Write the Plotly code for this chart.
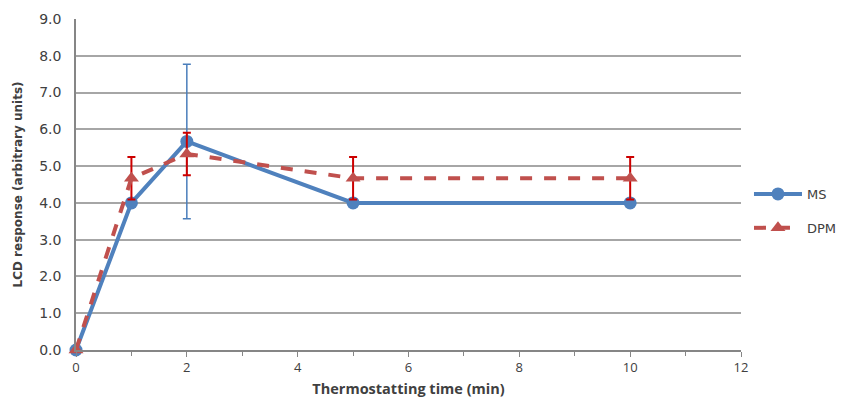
import plotly.graph_objects as go

time_min = [0, 1, 2, 5, 10]
ms_values = [0.0, 4.0, 5.67, 4.0, 4.0]
ms_errors = [0.0, 0.0, 2.1, 0.0, 0.0]
dpm_values = [0.0, 4.67, 5.33, 4.67, 4.67]
dpm_errors = [0.0, 0.58, 0.58, 0.58, 0.58]
y_ticks = [0, 1, 2, 3, 4, 5, 6, 7, 8, 9]
y_tick_labels = [f"{v:.1f}" for v in y_ticks]

fig = go.Figure()
fig.add_trace(go.Scatter(
    x=time_min, y=ms_values, name="MS", mode="lines+markers",
    legendgroup="ms", cliponaxis=False,
    line=dict(color="#4f81bd", width=4),
    marker=dict(symbol="circle", size=13, color="#4f81bd"),
    error_y=dict(type="data", array=ms_errors, visible=True,
                 color="#4a7ebb", thickness=1.5, width=4),
))
fig.add_trace(go.Scatter(
    x=time_min, y=dpm_values, name="DPM", mode="lines+markers",
    legendgroup="dpm", cliponaxis=False,
    line=dict(color="#c0504d", width=4, dash="dash"),
    marker=dict(symbol="triangle-up", size=13, color="#c0504d"),
    error_y=dict(type="data", array=dpm_errors, visible=True,
                 color="#cc0000", thickness=2, width=4),
))

dv = "DejaVu Sans, Verdana, sans-serif"
cal = "Open Sans, Liberation Sans, sans-serif"
fig.update_layout(
    width=845, height=400,
    margin=dict(l=68, r=112, t=11, b=58, autoexpand=False),
    paper_bgcolor="white", plot_bgcolor="white",
    font=dict(family=dv, size=13, color="#404040"),
    legend=dict(x=1.012, y=0.42, xanchor="left", yanchor="middle",
                font=dict(family=dv, size=13, color="#404040"),
                traceorder="grouped", tracegroupgap=14,
                itemwidth=48, bgcolor="rgba(0,0,0,0)"),
    showlegend=True,
)
fig.update_xaxes(
    range=[0, 12], tickvals=[0, 2, 4, 6, 8, 10, 12],
    showgrid=False, zeroline=False, automargin=False,
    showline=True, linecolor="#868686", linewidth=1.5,
    ticks="outside", ticklen=5, tickcolor="#868686",
    minor=dict(ticks="outside", dtick=1, ticklen=4, tickcolor="#868686", showgrid=False),
    tickfont=dict(family=cal, size=13, color="#404040"),
    title=dict(text="<b>Thermostatting time (min)</b>", font=dict(family=cal, size=14.5, color="#404040"), standoff=9),
)
fig.update_yaxes(
    range=[0, 9], tickvals=y_ticks, ticktext=y_tick_labels,
    showgrid=True, gridcolor="#a6a6a6", gridwidth=1.5, zeroline=False, automargin=False,
    showline=True, linecolor="#868686", linewidth=1.5,
    ticks="", ticklabelstandoff=10,
    tickfont=dict(family=dv, size=14, color="#404040"),
    title=dict(text="<b>LCD response (arbitrary units)</b>", font=dict(family=dv, size=12, color="#404040"), standoff=14),
)

fig.write_html("out.html")
